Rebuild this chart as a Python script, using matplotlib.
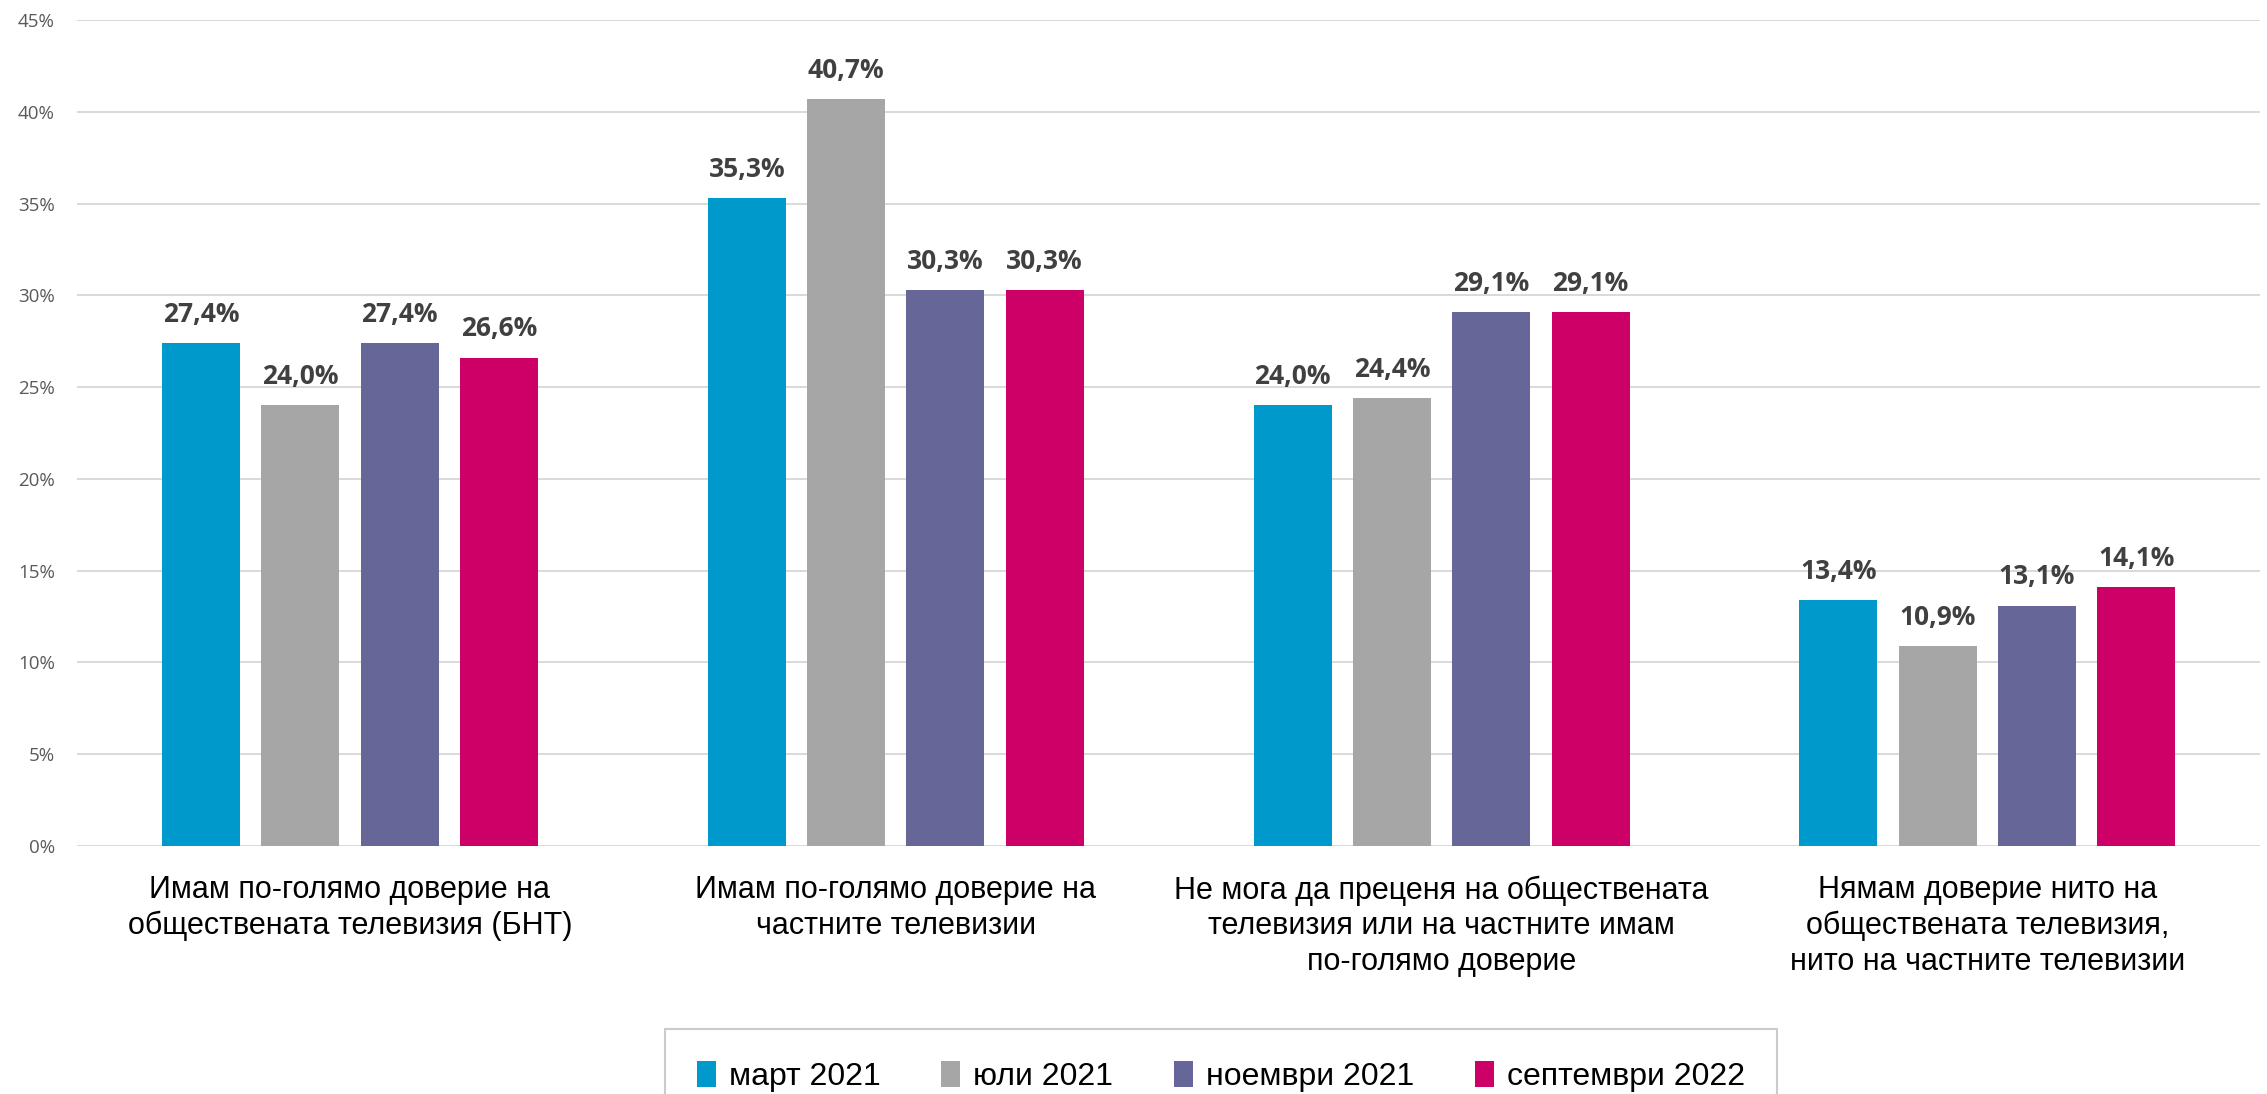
import matplotlib
matplotlib.use("Agg")
import matplotlib.pyplot as plt
from matplotlib import font_manager
import numpy as np

# --- Data ---
categories = [
    "Имам по-голямо доверие на\nобществената телевизия (БНТ)",
    "Имам по-голямо доверие на\nчастните телевизии",
    "Не мога да преценя на обществената\nтелевизия или на частните имам\nпо-голямо доверие",
    "Нямам доверие нито на\nобществената телевизия,\nнито на частните телевизии",
]
series_names = ["март 2021", "юли 2021", "ноември 2021", "септември 2022"]
mar_2021 = [27.4, 35.3, 24.0, 13.4]
jul_2021 = [24.0, 40.7, 24.4, 10.9]
nov_2021 = [27.4, 30.3, 29.1, 13.1]
sep_2022 = [26.6, 30.3, 29.1, 14.1]
y_ticks = [0, 5, 10, 15, 20, 25, 30, 35, 40, 45]

colors = ["#0099CC", "#A6A6A6", "#666699", "#CC0066"]

installed = {f.name for f in font_manager.fontManager.ttflist}
has_narrow = "Liberation Sans Narrow" in installed
NARROW = ["Liberation Sans Narrow" if has_narrow else "Liberation Sans", "DejaVu Sans"]
cat_size = 24 if has_narrow else 22
leg_size = 25 if has_narrow else 23
LABELF = ["Open Sans", "DejaVu Sans"]

fig = plt.figure(figsize=(22.67, 10.94), dpi=100)
ax = fig.add_axes([0.034, 0.2267, 0.963, 0.755])

x = np.arange(len(categories))
step = 0.182
width = 0.143
all_series = [mar_2021, jul_2021, nov_2021, sep_2022]

for i, (vals, name, col) in enumerate(zip(all_series, series_names, colors)):
    offs = (i - 1.5) * step
    bars = ax.bar(x + offs, vals, width=width, color=col, label=name, zorder=3)
    for b, v in zip(bars, vals):
        ax.annotate(f"{v:.1f}%".replace(".", ","),
                    (b.get_x() + b.get_width() / 2, v),
                    xytext=(0, 11), textcoords="offset points",
                    ha="center", va="bottom", fontsize=19, fontweight="bold",
                    color="#404040", family=LABELF, zorder=4)

ax.set_xlim(-0.5, len(categories) - 0.5)
ax.set_ylim(0, 45)
ax.set_yticks(y_ticks)
ax.set_yticklabels([f"{t}%" for t in y_ticks], family=LABELF, fontsize=13.5, color="#595959")
ax.set_xticks(x)
ax.set_xticklabels(categories, family=NARROW, fontsize=cat_size, color="#000000", linespacing=1.25)
ax.tick_params(axis="y", length=0, pad=16)
ax.tick_params(axis="x", length=0, pad=21)

ax.grid(axis="y", color="#D9D9D9", linewidth=1.4, zorder=0)
for s in ax.spines.values():
    s.set_visible(False)

leg = fig.legend(loc="upper center", bbox_to_anchor=(0.5385, 0.0594), ncol=4,
                 frameon=True, fancybox=False, edgecolor="#BFBFBF", borderaxespad=0,
                 prop={"family": NARROW, "size": leg_size}, handlelength=0.6, handleheight=0.9,
                 handletextpad=0.4, columnspacing=1.9, borderpad=1.0)
leg.get_frame().set_linewidth(1.5)

fig.savefig("out.png", dpi=100)
